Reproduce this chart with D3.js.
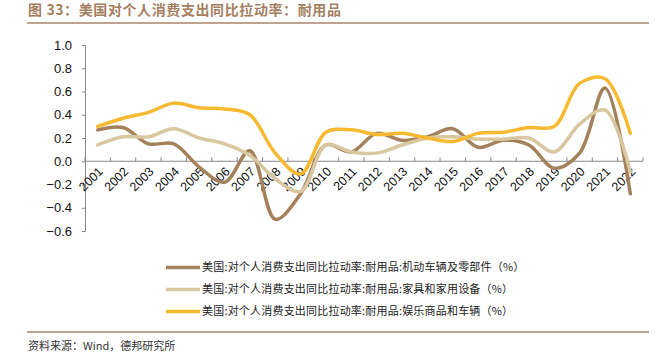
<!DOCTYPE html>
<html><head><meta charset="utf-8">
<script src="https://cdn.jsdelivr.net/npm/d3@7"></script>
<style>body{margin:0;background:#fff}svg{display:block}</style>
</head><body><svg id="c" width="672" height="359"></svg>
<script>
const years = ["2001","2002","2003","2004","2005","2006","2007","2008","2009","2010","2011","2012","2013","2014","2015","2016","2017","2018","2019","2020","2021","2022"];
const motorVehicles = [0.27,0.29,0.15,0.15,-0.05,-0.18,0.09,-0.50,-0.28,0.14,0.08,0.24,0.18,0.21,0.28,0.12,0.18,0.14,-0.06,0.07,0.63,-0.28];
const furniture = [0.14,0.21,0.21,0.28,0.20,0.15,0.05,-0.15,-0.26,0.14,0.08,0.07,0.14,0.20,0.21,0.19,0.19,0.20,0.08,0.32,0.44,-0.09];
const recreational = [0.30,0.37,0.42,0.50,0.46,0.45,0.40,0.07,-0.11,0.25,0.27,0.23,0.24,0.20,0.17,0.24,0.25,0.29,0.30,0.67,0.71,0.24];
const yTicks = [1.0,0.8,0.6,0.4,0.2,0.0,-0.2,-0.4,-0.6];
const seriesNames = ["美国:对个人消费支出同比拉动率:耐用品:机动车辆及零部件（%）","美国:对个人消费支出同比拉动率:耐用品:家具和家用设备（%）","美国:对个人消费支出同比拉动率:耐用品:娱乐商品和车辆（%）"];
const colors = ["#a3815a","#d8c79f","#f6b92f"];
const title = "图 33：美国对个人消费支出同比拉动率：耐用品";
const source = "资料来源：Wind，德邦研究所";

const svg = d3.select("#c");
const cjk = "'Noto Sans CJK SC', sans-serif";
const lat = "'Liberation Sans', Arial, sans-serif";

svg.append("text").attr("x",28).attr("y",15).attr("fill","#a57f5f").attr("font-family",cjk)
  .attr("font-weight","bold").attr("font-size",14).attr("letter-spacing",0.6).text(title);
svg.append("line").attr("x1",27).attr("x2",649).attr("y1",23).attr("y2",23).attr("stroke","#a88666").attr("stroke-width",1.5);
svg.append("line").attr("x1",27).attr("x2",649).attr("y1",332).attr("y2",332).attr("stroke","#a88666").attr("stroke-width",1.5);
svg.append("text").attr("x",28).attr("y",350).attr("fill","#333").attr("font-family",cjk).attr("font-size",11).text(source);

const x = d3.scaleBand().domain(years).range([85,643]);
const y = d3.scaleLinear().domain([-0.6,1.0]).range([231,45]);

// y axis
const ya = svg.append("g").attr("transform","translate(85,0)")
  .call(d3.axisLeft(y).tickValues(yTicks).tickFormat(d3.format(".1f")).tickSize(3).tickPadding(10));
ya.select(".domain").attr("stroke","#888");
ya.selectAll(".tick line").attr("stroke","#888");
ya.selectAll(".tick text").attr("font-family",lat).attr("font-size",13).attr("fill","#111");

// x axis at zero
const xa = svg.append("g").attr("transform",`translate(0,${y(0)})`);
xa.append("line").attr("x1",85).attr("x2",643).attr("stroke","#888");
const bounds = years.map(d=>x(d)).concat([643]);
xa.selectAll("line.tk").data(bounds).enter().append("line").attr("class","tk")
  .attr("x1",d=>d).attr("x2",d=>d).attr("y1",0).attr("y2",-4).attr("stroke","#888");
xa.selectAll("text").data(years).enter().append("text")
  .attr("transform",d=>`translate(${x(d)+x.bandwidth()/2+3},${8}) rotate(-45)`)
  .attr("text-anchor","end").attr("dy","0.35em").attr("font-family",lat).attr("font-size",12.5).attr("fill","#111").text(d=>d);

const line = d3.line().x((d,i)=>x(years[i])+x.bandwidth()/2).y(d=>y(d)).curve(d3.curveCatmullRom.alpha(0.5));
[motorVehicles,furniture,recreational].forEach((s,i)=>{
  svg.append("path").datum(s).attr("d",line).attr("fill","none").attr("stroke",colors[i]).attr("stroke-width",3.5).attr("stroke-linecap","round");
});
const lg = svg.append("g");
[267.5,289.5,311.5].forEach((yy,i)=>{
  lg.append("line").attr("x1",166).attr("x2",200).attr("y1",yy).attr("y2",yy).attr("stroke",colors[i]).attr("stroke-width",3.5);
  lg.append("text").attr("x",202).attr("y",yy).attr("dy","0.35em").attr("font-family",cjk).attr("font-size",11).attr("letter-spacing",0.2).attr("fill","#222").text(seriesNames[i]);
});
</script></body></html>
